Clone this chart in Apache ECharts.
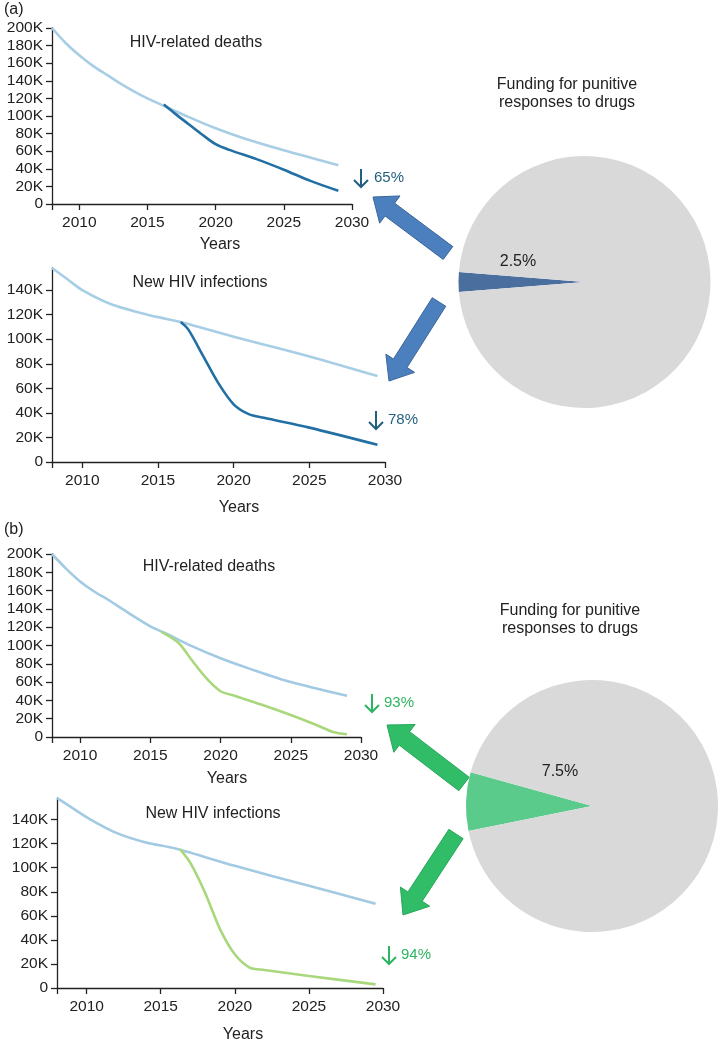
<!DOCTYPE html>
<html>
<head>
<meta charset="utf-8">
<script src="https://cdn.jsdelivr.net/npm/echarts@6/dist/echarts.min.js"></script>
<style>
html,body{margin:0;padding:0;background:#fff;}
#c{width:724px;height:1041px;}
</style>
</head>
<body>
<div id="c"></div>
<script>
// ---------- data ----------
const xTickYears = [2008, 2010, 2015, 2020, 2025, 2030];
const xLabelYears = [2010, 2015, 2020, 2025, 2030];
const yTicksDeaths = [0, 20000, 40000, 60000, 80000, 100000, 120000, 140000, 160000, 180000, 200000];
const yTicksInf = [0, 20000, 40000, 60000, 80000, 100000, 120000, 140000];

// (a) HIV-related deaths
const aDeathsBaseYears = [2008, 2009, 2010, 2011, 2012, 2013, 2014, 2015, 2016, 2018, 2020, 2022, 2025, 2029];
const aDeathsBaseVals  = [200000, 183000, 169000, 157000, 147000, 137000, 128000, 120000, 113000, 99000, 86000, 75000, 61000, 44000];
const aDeathsScenYears = [2016.2, 2017, 2018, 2019, 2020, 2021, 2023, 2025, 2027, 2029];
const aDeathsScenVals  = [113000, 103000, 91000, 79000, 68000, 61500, 51000, 39000, 26000, 15000];
// (a) New HIV infections
const aInfBaseYears = [2008, 2009, 2010, 2012, 2014, 2015, 2016.5, 2020, 2025, 2029.5];
const aInfBaseVals  = [158000, 149000, 140000, 128000, 121000, 118000, 114000, 102000, 86000, 70000];
const aInfScenYears = [2016.5, 2017, 2018, 2019, 2020, 2021, 2022, 2025, 2029.5];
const aInfScenVals  = [114000, 108000, 86000, 64000, 47000, 39000, 36000, 28000, 14000];
// (b) HIV-related deaths
const bDeathsBaseYears = [2008, 2009, 2010, 2011, 2012, 2013, 2015, 2016, 2018, 2020, 2022, 2025, 2029];
const bDeathsBaseVals  = [200000, 184000, 170000, 159000, 150000, 140000, 121000, 114000, 99000, 86000, 75000, 60000, 45000];
const bDeathsScenYears = [2015.8, 2017, 2018, 2019, 2020, 2021, 2023, 2025, 2027, 2028, 2029];
const bDeathsScenVals  = [115000, 103000, 83000, 64000, 50000, 45000, 35000, 24000, 12000, 5500, 3000];
// (b) New HIV infections
const bInfBaseYears = [2008, 2009, 2010, 2012, 2014, 2016, 2020, 2025, 2029.5];
const bInfBaseVals  = [158000, 150000, 142000, 129000, 121000, 116000, 101600, 85000, 70000];
const bInfScenYears = [2016.3, 2017, 2018, 2019, 2020, 2021, 2022, 2025, 2029.5];
const bInfScenVals  = [115500, 104000, 79000, 49000, 28000, 17000, 15000, 10000, 3000];

// pies: funding for punitive responses to drugs (%)
const pieLabels = ['Punitive responses', 'Other'];
const pieAVals = [2.5, 97.5];
const pieBVals = [7.5, 92.5];

// reductions
const reductions = ['65%', '78%', '93%', '94%'];
const panelTitles = ['HIV-related deaths', 'New HIV infections', 'HIV-related deaths', 'New HIV infections'];

// ---------- build ----------
const FONT = '"Liberation Sans", Arial, Helvetica, sans-serif';
const AX = '#222';
const zip = (xs, ys) => xs.map((x, i) => [x, ys[i]]);
const kfmt = v => v === 0 ? '0' : (v / 1000) + 'K';

const grids = [
  {left: 52, top: 28, width: 300, height: 176},
  {left: 52, top: 268, width: 333, height: 194},
  {left: 52, top: 554, width: 309, height: 183},
  {left: 57, top: 798, width: 326, height: 190}
].map(g => Object.assign({containLabel: false, outerBoundsMode: 'none'}, g));

const yMax = [200000, 158000, 200000, 158000];
const yTicks = [yTicksDeaths, yTicksInf, yTicksDeaths, yTicksInf];

const xAxes = grids.map((g, i) => ({
  type: 'value', gridIndex: i, min: 2008, max: 2030,
  axisLine: {show: true, lineStyle: {color: AX, width: 1.3}},
  axisTick: {show: true, length: 6, lineStyle: {color: AX, width: 1.3}, customValues: xTickYears},
  axisLabel: {customValues: xLabelYears, fontSize: 15.5, color: AX, fontFamily: FONT, margin: 11,
              formatter: v => String(v)},
  splitLine: {show: false}
}));
const yAxes = grids.map((g, i) => ({
  type: 'value', gridIndex: i, min: 0, max: yMax[i],
  axisLine: {show: true, lineStyle: {color: AX, width: 1.3}},
  axisTick: {show: true, length: 6, lineStyle: {color: AX, width: 1.3}, customValues: yTicks[i]},
  axisLabel: {customValues: yTicks[i], fontSize: 15.5, color: AX, fontFamily: FONT, margin: 9, formatter: kfmt},
  splitLine: {show: false}
}));

const LIGHT_A = '#a7cee4', DARK_A = '#2270a3';
const LIGHT_B = '#a2cae3', GREEN_B = '#a9d87c';
function line(i, xs, ys, color, z) {
  return {type: 'line', xAxisIndex: i, yAxisIndex: i, data: zip(xs, ys), symbol: 'none',
    smooth: 0.3, lineStyle: {color: color, width: 2.6}, z: z, silent: true};
}
const series = [
  line(0, aDeathsBaseYears, aDeathsBaseVals, LIGHT_A, 2),
  line(0, aDeathsScenYears, aDeathsScenVals, DARK_A, 3),
  line(1, aInfBaseYears, aInfBaseVals, LIGHT_A, 2),
  line(1, aInfScenYears, aInfScenVals, DARK_A, 3),
  line(2, bDeathsBaseYears, bDeathsBaseVals, LIGHT_B, 2),
  line(2, bDeathsScenYears, bDeathsScenVals, GREEN_B, 3),
  line(3, bInfBaseYears, bInfBaseVals, LIGHT_B, 2),
  line(3, bInfScenYears, bInfScenVals, GREEN_B, 3),
  {type: 'pie', center: [584.5, 282], radius: 126, startAngle: 180 + pieAVals[0] * 1.8,
   clockwise: true, silent: true, label: {show: false}, labelLine: {show: false},
   data: [{name: pieLabels[0], value: pieAVals[0], itemStyle: {color: '#4a6e9d'}},
          {name: pieLabels[1], value: pieAVals[1], itemStyle: {color: '#d9d9d9'}}]},
  {type: 'pie', center: [592, 806], radius: 126, startAngle: 178 + pieBVals[0] * 1.8,
   clockwise: true, silent: true, label: {show: false}, labelLine: {show: false},
   data: [{name: pieLabels[0], value: pieBVals[0], itemStyle: {color: '#5acb8b'}},
          {name: pieLabels[1], value: pieBVals[1], itemStyle: {color: '#d9d9d9'}}]}
];

function txt(x, y, s, size, color, align) {
  return {type: 'text', x: x, y: y, z: 100, silent: true,
    style: {text: s, fontSize: size, fill: color || AX, fontFamily: FONT,
      align: align || 'center', verticalAlign: 'middle', lineHeight: 18}};
}
function downArrow(x, y, color) {
  return {type: 'group', z: 100, silent: true, children: [
    {type: 'line', z: 100, shape: {x1: x, y1: y - 9, x2: x, y2: y + 9},
     style: {stroke: color, lineWidth: 2}},
    {type: 'polyline', z: 100, shape: {points: [[x - 7, y + 2], [x, y + 9], [x + 7, y + 2]]},
     style: {stroke: color, lineWidth: 2, fill: null}}
  ]};
}
function blockArrow(tx, ty, hx, hy, w, hw, hl, fill, stroke) {
  const dx = hx - tx, dy = hy - ty, L = Math.sqrt(dx * dx + dy * dy);
  const ux = dx / L, uy = dy / L, px = -uy, py = ux;
  const bx = hx - ux * hl, by = hy - uy * hl;
  const pts = [
    [tx + px * w / 2, ty + py * w / 2], [bx + px * w / 2, by + py * w / 2],
    [bx + px * hw / 2, by + py * hw / 2], [hx, hy],
    [bx - px * hw / 2, by - py * hw / 2], [bx - px * w / 2, by - py * w / 2],
    [tx - px * w / 2, ty - py * w / 2]
  ];
  return {type: 'polygon', z: 100, silent: true, shape: {points: pts},
    style: {fill: fill, stroke: stroke, lineWidth: 1}};
}

const TEAL = '#23607e', GRN = '#2db562';
const graphics = [
  txt(4, 10, '(a)', 16, AX, 'left'),
  txt(4, 530, '(b)', 16, AX, 'left'),
  txt(196, 43, panelTitles[0], 16),
  txt(200, 283, panelTitles[1], 16),
  txt(209, 567, panelTitles[2], 16),
  txt(213, 814, panelTitles[3], 16),
  txt(220, 245, 'Years', 16),
  txt(239, 508, 'Years', 16),
  txt(227, 779, 'Years', 16),
  txt(243, 1035, 'Years', 16),
  txt(567, 94, 'Funding for punitive\nresponses to drugs', 16),
  txt(570, 620, 'Funding for punitive\nresponses to drugs', 16),
  txt(518, 262, pieAVals[0] + '%', 16),
  txt(560, 772, pieBVals[0] + '%', 16),
  // reduction annotations
  downArrow(361, 178, TEAL),
  txt(374, 178, reductions[0], 15, TEAL, 'left'),
  downArrow(376, 420, TEAL),
  txt(388, 420, reductions[1], 15, TEAL, 'left'),
  downArrow(372, 703, GRN),
  txt(384, 703, reductions[2], 15, GRN, 'left'),
  downArrow(389, 955, GRN),
  txt(401, 955, reductions[3], 15, GRN, 'left'),
  // block arrows
  blockArrow(448, 253, 373, 197, 16, 34, 21, '#4b7fbd', '#3a669b'),
  blockArrow(439, 302, 389, 381, 16, 34, 21, '#4b7fbd', '#3a669b'),
  blockArrow(464, 784, 387, 725, 17, 35, 22, '#31bd68', '#27a85a'),
  blockArrow(456, 834, 403, 915, 17, 35, 22, '#31bd68', '#27a85a')
];

const chart = echarts.init(document.getElementById('c'), null, {renderer: 'canvas'});
chart.setOption({
  animation: false,
  backgroundColor: '#ffffff',
  grid: grids,
  xAxis: xAxes,
  yAxis: yAxes,
  series: series,
  graphic: graphics
});
</script>
</body>
</html>
